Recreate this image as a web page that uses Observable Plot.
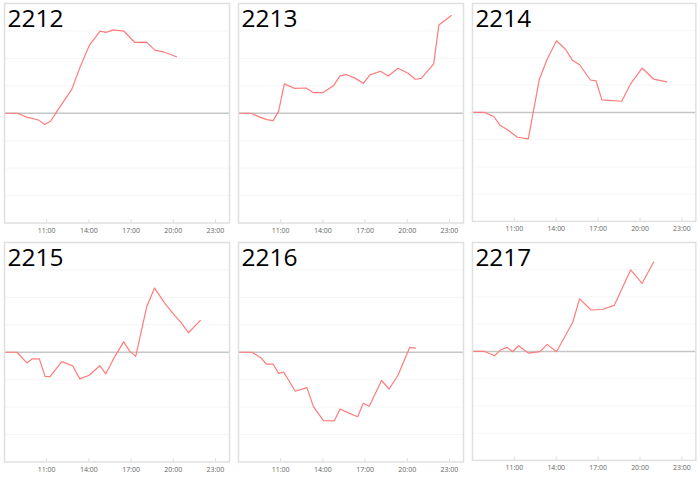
<!DOCTYPE html>
<html>
<head>
<meta charset="utf-8">
<script src="https://cdn.jsdelivr.net/npm/d3@7"></script>
<script src="https://cdn.jsdelivr.net/npm/@observablehq/plot@0.6"></script>
<style>
  html, body { margin: 0; padding: 0; background: #fff; }
  #grid { position: relative; width: 700px; height: 477px; overflow: hidden; }
  #grid > div { position: absolute; }
  svg { display: block; }
</style>
</head>
<body>
<div id="grid"></div>
<script>
// Tick labels (hours)
const hourTicks = [11, 14, 17, 20, 23];
const gridLevels = [-3, -2, -1, 1, 2, 3];

// Series names
const names = ["2212", "2213", "2214", "2215", "2216", "2217"];

// Times (decimal hours) and values per series
const t2212 = [8.0, 8.94, 9.61, 10.0, 10.43, 10.85, 11.26, 11.73, 12.79, 13.38, 14.04, 14.8, 15.22, 15.74, 16.5, 17.27, 18.1, 18.69, 19.28, 20.23];
const v2212 = [0, 0, -0.15, -0.19, -0.25, -0.41, -0.3, 0.07, 0.88, 1.69, 2.48, 2.99, 2.95, 3.04, 2.99, 2.58, 2.59, 2.3, 2.24, 2.06];

const t2213 = [8.0, 8.9, 9.56, 10.03, 10.46, 10.85, 11.26, 11.96, 12.81, 13.33, 14.0, 14.75, 15.22, 15.65, 16.28, 16.87, 17.35, 18.1, 18.64, 19.35, 20.06, 20.58, 21.0, 21.88, 22.25, 23.13];
const v2213 = [0, 0, -0.15, -0.23, -0.27, 0.07, 1.07, 0.91, 0.92, 0.75, 0.75, 1.0, 1.36, 1.41, 1.28, 1.09, 1.4, 1.53, 1.36, 1.64, 1.46, 1.24, 1.27, 1.8, 3.22, 3.56];

const t2214 = [8.0, 8.87, 9.53, 9.95, 10.48, 11.23, 12.0, 12.79, 13.35, 14.02, 14.68, 15.15, 15.67, 16.45, 16.85, 17.27, 18.69, 19.33, 20.15, 20.98, 21.92];
const v2214 = [0, 0, -0.15, -0.46, -0.63, -0.91, -0.97, 1.22, 1.95, 2.63, 2.31, 1.92, 1.75, 1.19, 1.16, 0.46, 0.41, 1.05, 1.63, 1.22, 1.12];

const t2215 = [8.0, 8.88, 9.59, 9.98, 10.48, 10.88, 11.24, 12.07, 12.84, 13.36, 14.02, 14.78, 15.2, 15.72, 16.47, 16.9, 17.33, 18.12, 18.67, 19.38, 19.97, 20.56, 21.08, 21.93];
const v2215 = [0, 0, -0.39, -0.24, -0.24, -0.88, -0.89, -0.34, -0.49, -0.97, -0.84, -0.49, -0.79, -0.27, 0.38, 0.04, -0.15, 1.67, 2.34, 1.8, 1.42, 1.08, 0.71, 1.16];

const t2216 = [8.0, 8.97, 9.61, 9.98, 10.46, 10.85, 11.21, 12.04, 12.86, 13.33, 14.04, 14.82, 15.22, 15.81, 16.47, 16.87, 17.3, 18.17, 18.71, 19.35, 20.18, 20.58];
const v2216 = [0, 0, -0.21, -0.43, -0.43, -0.77, -0.72, -1.42, -1.29, -1.98, -2.49, -2.5, -2.07, -2.21, -2.35, -1.86, -1.97, -1.03, -1.34, -0.83, 0.18, 0.15];

const t2217 = [8.0, 8.87, 9.58, 10.0, 10.48, 10.87, 11.3, 12.0, 12.84, 13.35, 14.02, 15.19, 15.67, 16.5, 17.27, 18.15, 19.33, 20.15, 20.98];
const v2217 = [0, 0, -0.16, 0.05, 0.15, -0.01, 0.21, -0.06, -0.01, 0.26, -0.01, 1.08, 1.93, 1.52, 1.54, 1.69, 2.99, 2.5, 3.28];

const seriesTimes = [t2212, t2213, t2214, t2215, t2216, t2217];
const seriesValues = [v2212, v2213, v2214, v2215, v2216, v2217];

const lefts = [0, 234, 467.7];
const tops = [0, 238.5];
const grid = document.getElementById("grid");

names.forEach((name, i) => {
  const data = seriesTimes[i].map((t, j) => ({t, v: seriesValues[i][j]}));
  const chart = Plot.plot({
    width: 234,
    height: 238,
    marginLeft: 4,
    marginRight: 5,
    marginTop: 3,
    marginBottom: 15.5,
    style: {fontFamily: "'Open Sans', 'Noto Sans', sans-serif", background: "#fff"},
    x: {domain: [8, 24], label: null},
    y: {domain: [-4, 4], axis: null, label: null},
    marks: [
      Plot.gridY(gridLevels, {stroke: "#f5f5f5", strokeOpacity: 1, strokeWidth: 1}),
      Plot.ruleY([0], {stroke: "#c6c6c6", strokeWidth: 1.4}),
      Plot.ruleX(hourTicks, {y1: -4, y2: -3.88, stroke: "#dcdcdc"}),
      Plot.line(data, {x: "t", y: "v", stroke: "#ff7b7b", strokeWidth: 1.2}),
      Plot.frame({stroke: "#e0e0e0", strokeWidth: 1.5}),
      Plot.axisX(hourTicks, {
        tickSize: 0,
        tickPadding: 5,
        fontSize: 7,
        fill: "#666",
        label: null,
        tickFormat: d => `${d}:00`
      }),
      Plot.text([name], {
        frameAnchor: "top-left",
        text: d => d,
        dx: 3,
        dy: 6,
        lineAnchor: "top",
        fontSize: 24.5,
        fill: "#000"
      })
    ]
  });
  const holder = document.createElement("div");
  holder.style.left = lefts[i % 3] + "px";
  holder.style.top = tops[Math.floor(i / 3)] + "px";
  holder.appendChild(chart);
  grid.appendChild(holder);
});
</script>
</body>
</html>
